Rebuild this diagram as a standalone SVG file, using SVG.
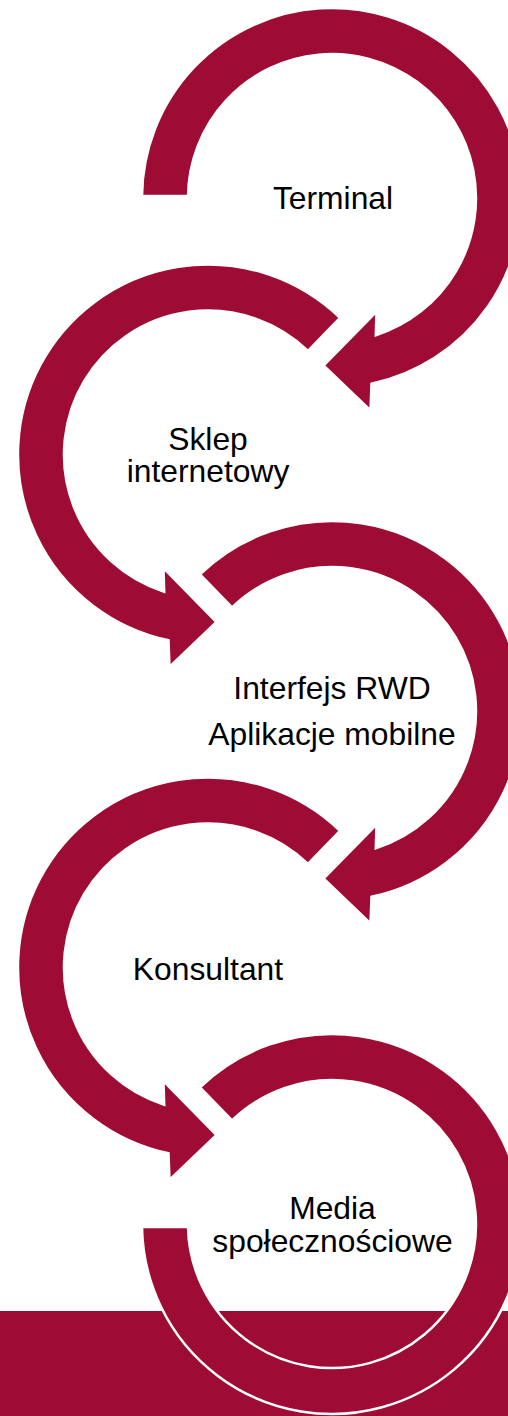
<svg xmlns="http://www.w3.org/2000/svg" width="508" height="1416" viewBox="0 0 508 1416">
  <style>
    .arrow { fill: #9E0B34; stroke: #FFFFFF; stroke-width: 2.5; stroke-linejoin: miter; }
    .band { fill: #9E0B34; }
    .label { font-family: "Liberation Sans", Arial, sans-serif; font-size: 31.8px; fill: #000000; text-anchor: middle; }
  </style>
  <defs>
    <path id="arcArrow" d="M -132.0 -136.7 A 190 190 0 1 1 39.5 185.8 L 38.5 212.5 L -8.5 167.5 L 44.5 113.5 L 43.8 137.2 A 144 144 0 1 0 -100.0 -103.6 Z"/>
  </defs>
  <rect width="508" height="1416" fill="#FFFFFF"/>
  <rect class="band" x="0" y="1311" width="508" height="105"/>

  <g id="connectors"></g>

  <g id="node-terminal">
    <path class="arrow" transform="translate(332,198)" d="M -190 -2 A 190 190 0 1 1 39.5 185.8 L 38.5 212.5 L -8.5 167.5 L 44.5 113.5 L 43.8 137.2 A 144 144 0 1 0 -144 -2 Z"/>
    <text class="label" x="333" y="209">Terminal</text>
  </g>

  <g id="node-sklep">
    <use href="#arcArrow" class="arrow" transform="translate(208,454.5) scale(-1,1)"/>
    <text class="label" x="208" y="450">Sklep</text>
    <text class="label" x="208" y="482">internetowy</text>
  </g>

  <g id="node-interfejs">
    <use href="#arcArrow" class="arrow" transform="translate(332,711)"/>
    <text class="label" x="332" y="699">Interfejs RWD</text>
    <text class="label" x="332" y="745">Aplikacje mobilne</text>
  </g>

  <g id="node-konsultant">
    <use href="#arcArrow" class="arrow" transform="translate(208,967.5) scale(-1,1)"/>
    <text class="label" x="208" y="980">Konsultant</text>
  </g>

  <g id="node-media">
    <path class="arrow" transform="translate(332,1224)" d="M -132.0 -136.7 A 190 190 0 1 1 -190 3 L -144 3 A 144 144 0 1 0 -100.0 -103.6 Z"/>
    <text class="label" x="332.5" y="1219">Media</text>
    <text class="label" x="332.5" y="1252">społecznościowe</text>
  </g>
</svg>
